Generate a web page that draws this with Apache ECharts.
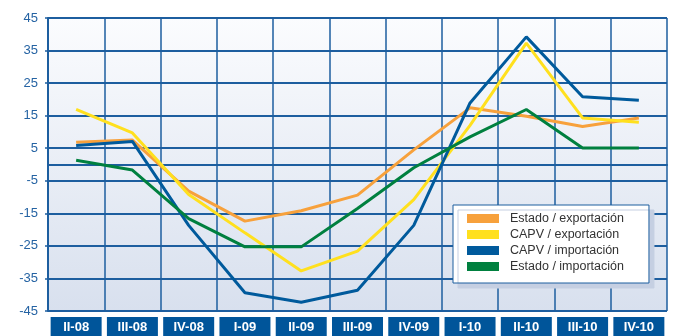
<!DOCTYPE html>
<html>
<head>
<meta charset="utf-8">
<script src="https://cdn.jsdelivr.net/npm/echarts@6/dist/echarts.min.js"></script>
<style>
  html, body { margin: 0; padding: 0; background: #ffffff; }
  #chart { width: 675px; height: 336px; }
</style>
</head>
<body>
<div id="chart"></div>
<script>
// Quarterly year-on-year change (%)
var quarters = ['II-08', 'III-08', 'IV-08', 'I-09', 'II-09', 'III-09', 'IV-09', 'I-10', 'II-10', 'III-10', 'IV-10'];

var estadoExport = [6.8, 7.5, -8.2, -17.4, -14.2, -9.4, 4.5, 17.4, 14.8, 11.7, 14.3];
var capvExport   = [16.9, 9.7, -9.2, -21.0, -32.7, -26.6, -10.8, 12.0, 37.3, 14.3, 13.0];
var capvImport   = [5.8, 7.1, -18.7, -39.4, -42.3, -38.6, -18.7, 18.9, 39.2, 20.8, 19.7];
var estadoImport = [1.3, -1.7, -16.6, -25.3, -25.3, -13.5, -1.0, 8.5, 16.9, 5.1, 5.1];

var seriesNames = ['Estado / exportación', 'CAPV / exportación', 'CAPV / importación', 'Estado / importación'];
var seriesColors = ['#f7a13c', '#ffe01e', '#005a9c', '#00803f'];
var seriesValues = [estadoExport, capvExport, capvImport, estadoImport];

var gridBlue = '#1d5e9f';

var chart = echarts.init(document.getElementById('chart'), null, { renderer: 'canvas' });

var option = {
  animation: false,
  backgroundColor: '#ffffff',
  grid: {
    left: 48, right: 8, top: 18, bottom: 25,
    show: true,
    borderWidth: 0,
    backgroundColor: new echarts.graphic.LinearGradient(0, 0, 0, 1, [
      { offset: 0, color: '#fbfcfe' },
      { offset: 1, color: '#d8e0ee' }
    ])
  },
  legend: {
    orient: 'vertical',
    left: 453, top: 205,
    padding: [7, 25, 10, 14],
    itemWidth: 32, itemHeight: 9, itemGap: 3,
    icon: 'rect',
    backgroundColor: '#ffffff',
    borderColor: gridBlue, borderWidth: 1,
    shadowColor: '#c5cfe2', shadowBlur: 0, shadowOffsetX: 5, shadowOffsetY: 5,
    textStyle: { fontFamily: 'Liberation Sans, Arial, sans-serif', fontSize: 12.5, color: '#333333', padding: [0, 0, 0, 6] },
    data: seriesNames
  },
  xAxis: {
    type: 'category',
    data: quarters,
    boundaryGap: true,
    axisLine: { show: true, lineStyle: { color: gridBlue, width: 2 } },
    axisTick: { show: false },
    splitLine: { show: true, lineStyle: { color: gridBlue, width: 1.5 } },
    axisLabel: {
      margin: 6,
      color: '#ffffff',
      fontFamily: 'Liberation Sans, Arial, sans-serif',
      fontWeight: 'bold',
      fontSize: 13,
      lineHeight: 14,
      backgroundColor: '#00559a',
      width: 51,
      align: 'center',
      padding: [3, 0, 2, 0]
    }
  },
  yAxis: {
    type: 'value',
    min: -45, max: 45, interval: 10,
    axisLine: { show: true, lineStyle: { color: gridBlue, width: 2 } },
    axisTick: { show: true, length: 3, lineStyle: { color: gridBlue, width: 1.5 } },
    splitLine: { show: true, lineStyle: { color: gridBlue, width: 2 } },
    axisLabel: {
      margin: 10,
      color: '#2563a3',
      fontFamily: 'Liberation Sans, Arial, sans-serif',
      fontSize: 13
    }
  },
  series: seriesValues.map(function (vals, i) {
    return {
      name: seriesNames[i],
      type: 'line',
      data: vals,
      showSymbol: false,
      symbol: 'none',
      color: seriesColors[i],
      lineStyle: { width: 3, color: seriesColors[i] }
    };
  })
};

chart.setOption(option);
</script>
</body>
</html>
